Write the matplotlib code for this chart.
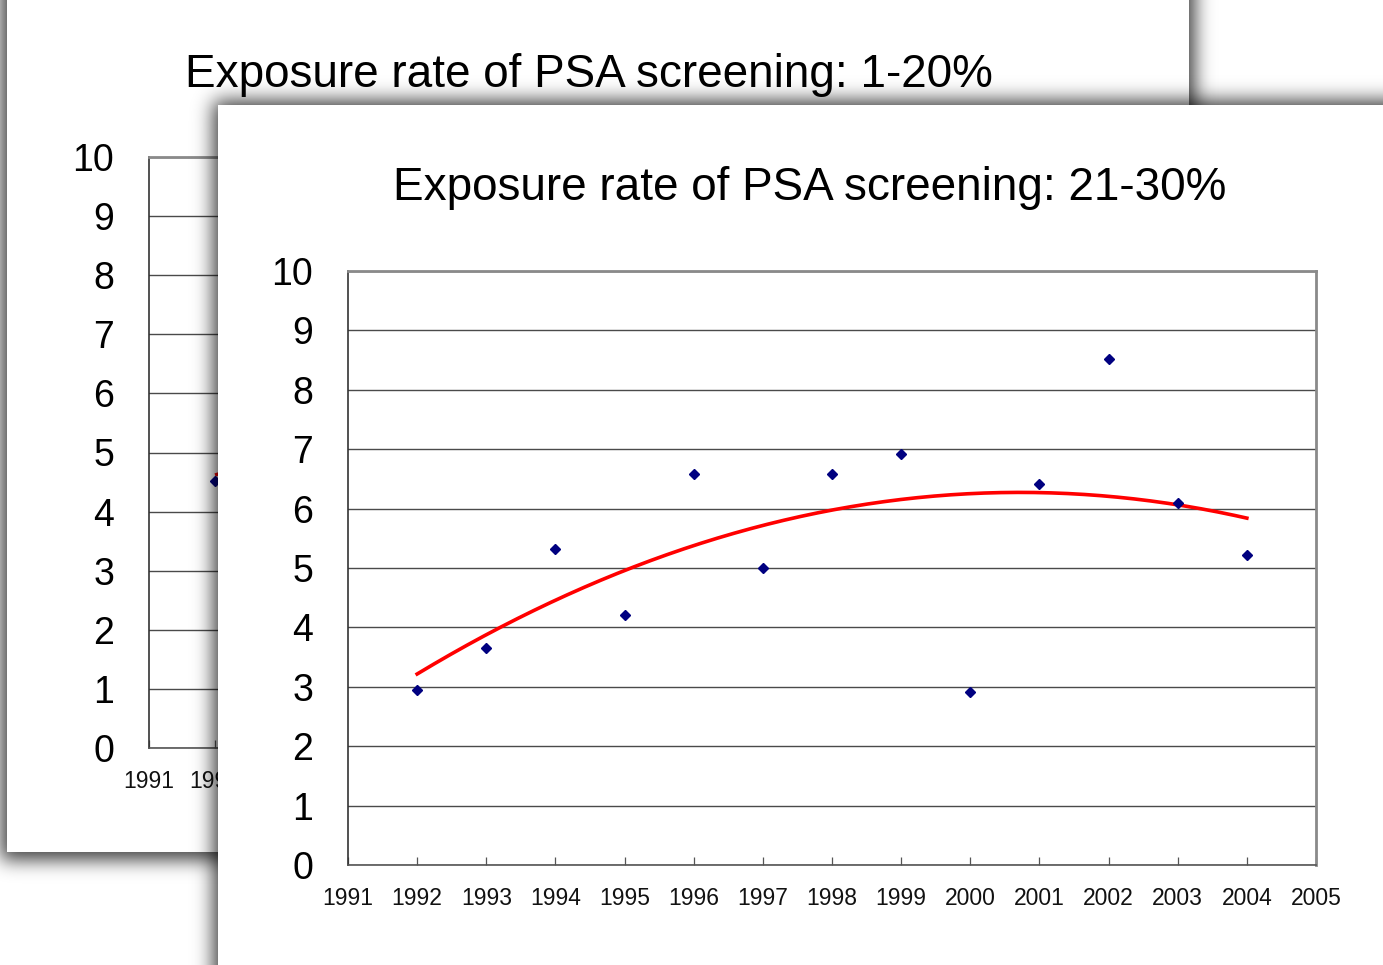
import math
import numpy as np
import matplotlib
matplotlib.use("Agg")
import matplotlib.pyplot as plt
from matplotlib.patches import Rectangle

# ---------------- data ----------------
years = [1992, 1993, 1994, 1995, 1996, 1997, 1998, 1999, 2000, 2001, 2002, 2003, 2004]
rate_21_30 = [2.95, 3.65, 5.32, 4.21, 6.58, 5.00, 6.58, 6.92, 2.91, 6.41, 8.52, 6.09, 5.22]

# back chart (mostly hidden behind the front card): only the first point is visible
back_years = [1992]
back_values = [4.52]
back_trend_years = [1992, 1993]
back_trend_values = [4.62, 4.95]

x_ticks = list(range(1991, 2006))
y_ticks = list(range(0, 11))
title_back = "Exposure rate of PSA screening: 1-20%"
title_front = "Exposure rate of PSA screening: 21-30%"

# ---------------- figure ----------------
W, H = 1383, 965
DPI = 100
fig = plt.figure(figsize=(W / DPI, H / DPI), dpi=DPI)
fig.patch.set_facecolor("white")

FONT = ["Liberation Sans", "DejaVu Sans"]


def px_rect(l, t, r, b):
    return [l / W, 1 - b / H, (r - l) / W, (b - t) / H]


def erf_arr(a):
    return np.array([math.erf(v) for v in a])


def shadow_rgba(x0, y0, x1, y1, sigma, amax):
    xs = np.arange(W) + 0.5
    ys = np.arange(H) + 0.5
    fx = 0.5 * (erf_arr((xs - x0) / sigma) - erf_arr((xs - x1) / sigma))
    fy = 0.5 * (erf_arr((ys - y0) / sigma) - erf_arr((ys - y1) / sigma))
    a = amax * np.outer(fy, fx)
    img = np.zeros((H, W, 4))
    img[..., 3] = a
    return img


def layer_axes(z):
    ax = fig.add_axes([0, 0, 1, 1], zorder=z)
    ax.set_xlim(0, W)
    ax.set_ylim(H, 0)
    ax.axis("off")
    ax.patch.set_alpha(0)
    return ax


# back card geometry
BC = (7, -40, 1189, 852)
# front card geometry
FC = (218, 105, 1420, 1010)

# ---- layer 0: back card shadow + card
L0 = layer_axes(0)
L0.imshow(shadow_rgba(BC[0] - 6, BC[1], BC[2] + 6, BC[3] + 8, 13, 0.75),
          extent=(0, W, H, 0), interpolation="bilinear", zorder=0)
L0.add_patch(Rectangle((BC[0], BC[1]), BC[2] - BC[0], BC[3] - BC[1],
                       facecolor="white", edgecolor="none", zorder=1))


def style_axes(ax, xl_pad, tick_size):
    ax.set_xlim(1991, 2005)
    ax.set_ylim(0, 10)
    ax.set_xticks(x_ticks)
    ax.set_xticklabels([str(v) for v in x_ticks], family=FONT, fontsize=tick_size,
                       color="#111111")
    ax.set_yticks(y_ticks)
    ax.set_yticklabels([str(v) for v in y_ticks], family=FONT, fontsize=27)
    ax.tick_params(axis="x", direction="in", length=6, width=0.9, color="#555555",
                   pad=xl_pad)
    ax.tick_params(axis="y", length=0, pad=25)
    ax.grid(axis="y", color="#4a4a4a", linewidth=1.0)
    ax.set_axisbelow(True)
    ax.spines["left"].set_color("#333333")
    ax.spines["bottom"].set_color("#555555")
    ax.spines["top"].set_color("#8a8a8a")
    ax.spines["right"].set_color("#8a8a8a")
    for s in ax.spines.values():
        s.set_linewidth(1.2)
    ax.spines["top"].set_linewidth(2.0)
    ax.spines["right"].set_linewidth(2.0)
    ax.set_facecolor("none")


# ---- layer 1: back chart
axb = fig.add_axes(px_rect(149, 157, 149 + 14 * 66, 748), zorder=1)
style_axes(axb, 16, 16.5)
axb.plot(back_trend_years, back_trend_values, color="red", linewidth=2.4,
         solid_capstyle="butt", zorder=3)
axb.plot(back_years, back_values, linestyle="none", marker="D", markersize=5,
         color="#000080", zorder=4, clip_on=False)
fig.text(589 / W, 1 - 75 / H, title_back, family=FONT, fontsize=33,
         ha="center", va="center", zorder=1.5)

# ---- layer 2: front card shadow + card
L2 = layer_axes(2)
L2.imshow(shadow_rgba(FC[0] - 4, FC[1] - 4, FC[2], FC[3], 14, 0.8),
          extent=(0, W, H, 0), interpolation="bilinear", zorder=0)
L2.add_patch(Rectangle((FC[0], FC[1]), FC[2] - FC[0], FC[3] - FC[1],
                       facecolor="white", edgecolor="none", zorder=1))

# ---- layer 3: front chart
axf = fig.add_axes(px_rect(348, 271, 1316, 865), zorder=3)
style_axes(axf, 16, 16.5)
coef = np.polyfit(years, rate_21_30, 2)
xt = np.linspace(years[0], years[-1], 200)
axf.plot(xt, np.polyval(coef, xt), color="red", linewidth=2.6, zorder=3)
axf.plot(years, rate_21_30, linestyle="none", marker="D", markersize=5,
         color="#000080", zorder=4)
axf.text((810 - 348) / 968, 1 + (271 - 188) / 594, title_front, family=FONT,
         fontsize=33, ha="center", va="center", transform=axf.transAxes)

fig.savefig("out.png", dpi=DPI)
